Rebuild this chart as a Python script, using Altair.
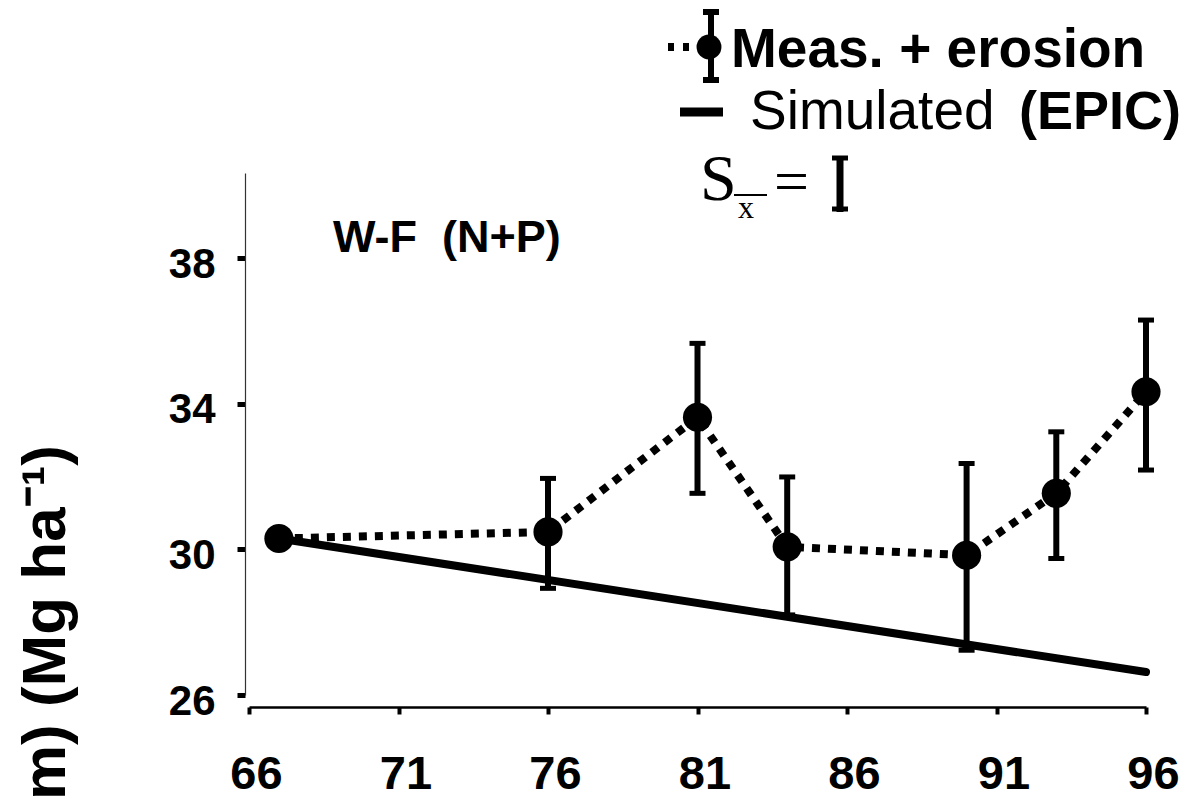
import altair as alt
import pandas as pd

# ---- data ----
years = [67, 76, 81, 84, 90, 93, 96]
measured = [30.30, 30.48, 33.63, 30.07, 29.84, 31.54, 34.33]
err_years = [76, 81, 84, 90, 93, 96]
err_low = [28.93, 31.54, 28.20, 27.23, 29.75, 32.18]
err_high = [31.95, 35.66, 31.99, 32.36, 33.23, 36.30]
sim_years = [67, 96]
simulated = [30.30, 26.63]
x_ticks = [66, 71, 76, 81, 86, 91, 96]
y_ticks = [26, 30, 34, 38]

panel_label = "W-F\u00a0\u00a0(N+P)"
legend_meas = "Meas. + erosion"
legend_sim = "Simulated"
legend_sim_bold = "(EPIC)"
y_title = "m) (Mg ha\u207b\u00b9)"

# ---- layout ----
W, H = 897, 522
OX, OY = 249, 173
SANS = "Liberation Sans, Arial, sans-serif"
SERIF = "Liberation Serif, Times New Roman, serif"


def px(x):
    return x - OX


def py(y):
    return y - OY


meas_df = pd.DataFrame({"year": years, "value": measured})
err_df = pd.DataFrame({"year": err_years, "value": err_low, "hi": err_high})
cap_df = pd.DataFrame({"year": err_years * 2, "value": err_low + err_high})
sim_df = pd.DataFrame({"year": sim_years, "value": simulated})
one = pd.DataFrame({"a": [0]})

xs = alt.Scale(domain=[66, 96], nice=False, zero=False)
ys = alt.Scale(domain=[26, 40.34], nice=False, zero=False)

x_axis = alt.Axis(
    values=x_ticks, title=None, grid=False, offset=12,
    domainColor="black", domainWidth=2.5,
    tickColor="black", tickSize=7, tickWidth=4,
    labelFont="Liberation Sans Narrow, Liberation Sans, Arial", labelFontWeight="bold",
    labelFontSize=47, labelColor="black", labelPadding=37, labelOffset=7,
    labelFlush=False, labelOverlap=False,
)
y_axis = alt.Axis(
    values=y_ticks, title=None, grid=False, offset=4,
    domainColor="#333333", domainWidth=1.2,
    tickColor="black", tickSize=8, tickWidth=5,
    labelFont=SANS, labelFontWeight="bold",
    labelFontSize=42, labelColor="black", labelPadding=22, labelOffset=6,
    labelFlush=False, labelOverlap=False,
)

X = alt.X("year:Q", scale=xs, axis=x_axis)
Y = alt.Y("value:Q", scale=ys, axis=y_axis)

sim_line = alt.Chart(sim_df).mark_line(color="black", strokeWidth=8, strokeCap="round").encode(x=X, y=Y)
meas_line = alt.Chart(meas_df).mark_line(
    color="black", strokeWidth=8, strokeDash=[8, 8], strokeCap="butt"
).encode(x=X, y=Y)
err_bars = alt.Chart(err_df).mark_rule(color="black", strokeWidth=6).encode(
    x=X, y=Y, y2=alt.Y2("hi:Q")
)
caps = alt.Chart(cap_df).mark_tick(
    color="black", orient="horizontal", thickness=5, size=16, opacity=1
).encode(x=X, y=Y)
points = alt.Chart(meas_df).mark_circle(color="black", size=850, opacity=1).encode(x=X, y=Y)


def text(t, x, y, size, font=SANS, weight="normal", align="left", baseline="alphabetic", angle=0):
    return alt.Chart(one).mark_text(
        font=font, fontSize=size, fontWeight=weight, align=align,
        baseline=baseline, angle=angle, color="black",
    ).encode(x=alt.value(px(x)), y=alt.value(py(y)), text=alt.value(t))


def rule(x1, y1, x2, y2, w, dash=None):
    kw = dict(color="black", strokeWidth=w, strokeCap="butt")
    if dash:
        kw["strokeDash"] = dash
    return alt.Chart(one).mark_rule(**kw).encode(
        x=alt.value(px(x1)), x2=alt.value(px(x2)),
        y=alt.value(py(y1)), y2=alt.value(py(y2)),
    )


def dot(x, y, size):
    return alt.Chart(one).mark_circle(color="black", size=size, opacity=1).encode(
        x=alt.value(px(x)), y=alt.value(py(y))
    )


decor = [
    text(panel_label, 333, 252, 45, weight="bold"),
    # legend row 1
    rule(668, 47, 700, 47, 8, dash=[6, 9]),
    rule(711, 11, 711, 82, 6),
    rule(703, 12, 719, 12, 6),
    rule(703, 80, 719, 80, 6),
    dot(709, 47, 620),
    text(legend_meas, 731, 67, 55, weight="bold"),
    # legend row 2
    rule(680, 112, 723, 112, 9),
    text(legend_sim, 750, 129, 55),
    text(legend_sim_bold, 1181, 129, 54, weight="bold", align="right"),
    # legend row 3
    text("S", 700, 200, 66, font=SERIF),
    text("x", 738, 218, 32, font=SERIF),
    rule(734, 195, 767, 195, 2),
    text("=", 774, 202, 62, font=SERIF),
    rule(840, 156, 840, 212, 7),
    rule(832, 158, 848, 158, 5),
    rule(832, 209, 848, 209, 5),
    # y title (partly cut in the reference)
    text(y_title, 46, 445, 62, weight="bold", align="right", baseline="middle", angle=270),
]

chart = alt.layer(sim_line, meas_line, err_bars, caps, points, *decor).properties(
    width=W, height=H,
    autosize=alt.AutoSizeParams(type="none"),
    padding={"left": OX, "top": OY, "right": 1190 - OX - W, "bottom": 799 - OY - H},
    background="white",
).configure_view(stroke=None)

chart.save("out.html", embed_options={"renderer": "svg", "actions": False})
